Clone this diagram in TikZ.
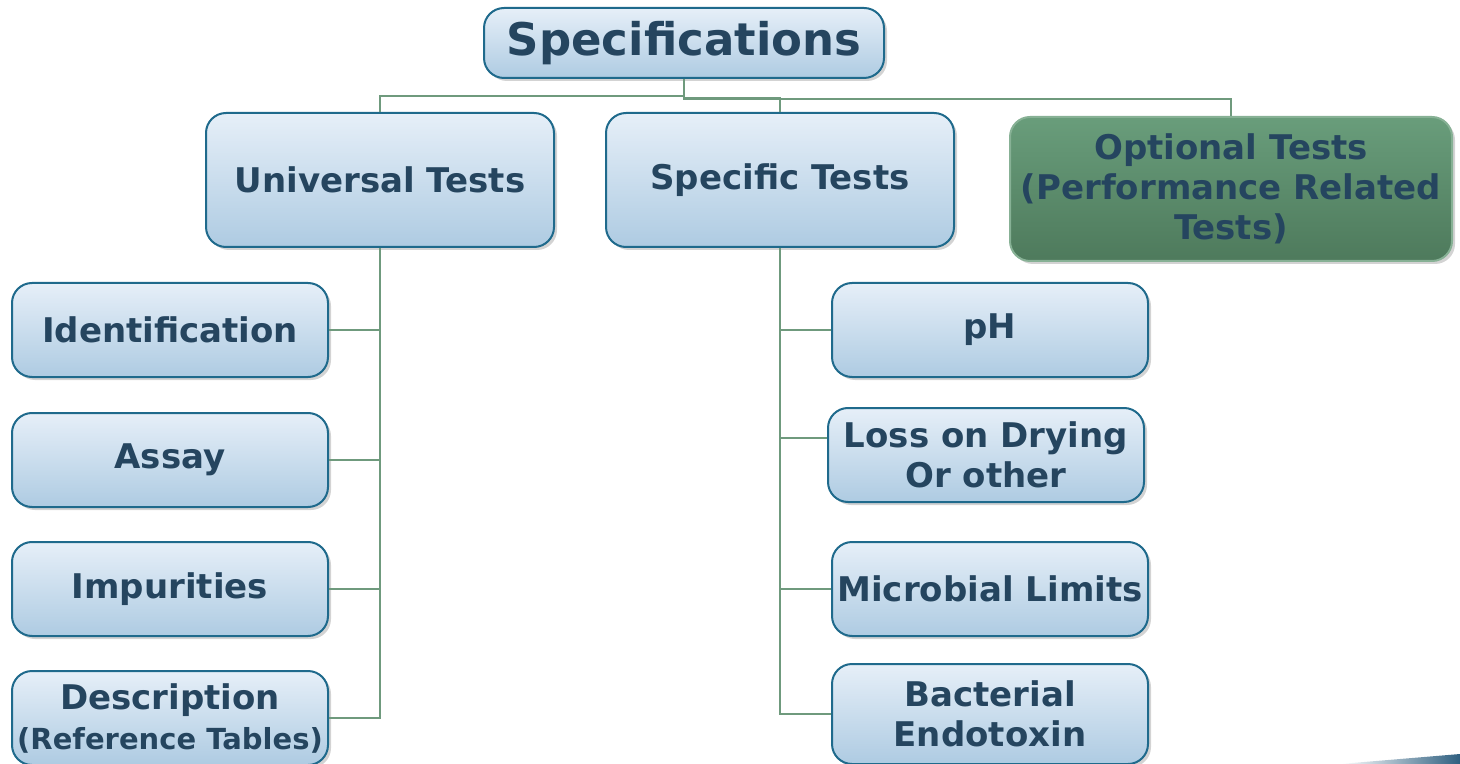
\documentclass[tikz,border=0pt]{standalone}
\usepackage{fontspec}
\setmainfont{DejaVu Sans}
\usetikzlibrary{shadows}
\definecolor{specfill}{HTML}{E6EFF8}
\definecolor{specfillb}{HTML}{AECBE2}
\definecolor{specline}{HTML}{1F6A8C}
\definecolor{spectext}{HTML}{25455F}
\definecolor{specgreen}{HTML}{699D7B}
\definecolor{specgreenb}{HTML}{4E7A5C}
\definecolor{specwire}{HTML}{6F9A7D}
\definecolor{specswoosh}{HTML}{2E5F80}

\tikzset{
  testbox/.style={draw=specline,line width=1pt,rounded corners=10pt,
    top color=specfill,bottom color=specfillb,text=spectext,
    font=\bfseries\fontsize{17}{20}\selectfont,align=center,inner sep=0pt,
    drop shadow={shadow xshift=1.5pt,shadow yshift=-1.5pt,opacity=0.35}},
  optbox/.style={testbox,draw=specgreen!80!white,top color=specgreen,bottom color=specgreenb},
  wire/.style={draw=specwire,line width=1pt}
}

\begin{document}
\begin{tikzpicture}[x=0.5pt,y=-0.5pt]
\useasboundingbox (0,0) rectangle (1460,764);
\node[testbox,minimum width=200pt,minimum height=35pt,font=\bfseries\fontsize{22.5}{26}\selectfont] (spec) at (684,43) {Specifications};
\node[testbox,minimum width=174pt,minimum height=67pt] (univ) at (380,180) {Universal Tests};
\node[testbox,minimum width=174pt,minimum height=67pt] (spect) at (780,180) {Specific Tests};
\node[optbox,minimum width=221pt,minimum height=72pt] (opt) at (1231,189) {Optional Tests\\(Performance Related\\Tests)};
\node[testbox,minimum width=158pt,minimum height=47pt] (ident) at (170,330) {Identification};
\node[testbox,minimum width=158pt,minimum height=47pt] (assay) at (170,460) {Assay};
\node[testbox,minimum width=158pt,minimum height=47pt] (impur) at (170,589) {Impurities};
\node[testbox,minimum width=158pt,minimum height=47pt] (descr) at (170,718) {Description\\{\fontsize{14.5}{16}\selectfont(Reference Tables)}};
\node[testbox,minimum width=158pt,minimum height=47pt] (ph) at (990,330) {pH};
\node[testbox,minimum width=158pt,minimum height=47pt] (loss) at (986,455) {Loss on Drying\\Or other};
\node[testbox,minimum width=158pt,minimum height=47pt] (micro) at (990,589) {Microbial Limits};
\node[testbox,minimum width=158pt,minimum height=50pt] (bact) at (990,714) {Bacterial\\Endotoxin};
% top level
\draw[wire] (spec.south) -- ++(0,17) -| (univ.north);
\draw[wire] (spec.south) -- ++(0,19) -| (spect.north);
\draw[wire] (spec.south) -- ++(0,20) -| (opt.north);
% universal tests
\draw[wire] (univ.south) |- (ident.east);
\draw[wire] (univ.south) |- (assay.east);
\draw[wire] (univ.south) |- (impur.east);
\draw[wire] (univ.south) |- (descr.east);
% specific tests
\draw[wire] (spect.south) |- (ph.west);
\draw[wire] (spect.south) |- ([yshift=8.5pt]loss.west);
\draw[wire] (spect.south) |- (micro.west);
\draw[wire] (spect.south) |- (bact.west);
% corner swoosh
\shade[left color=white,right color=specswoosh] (1340,764) .. controls (1400,759) .. (1460,754) -- (1460,764) -- cycle;
\end{tikzpicture}
\end{document}
